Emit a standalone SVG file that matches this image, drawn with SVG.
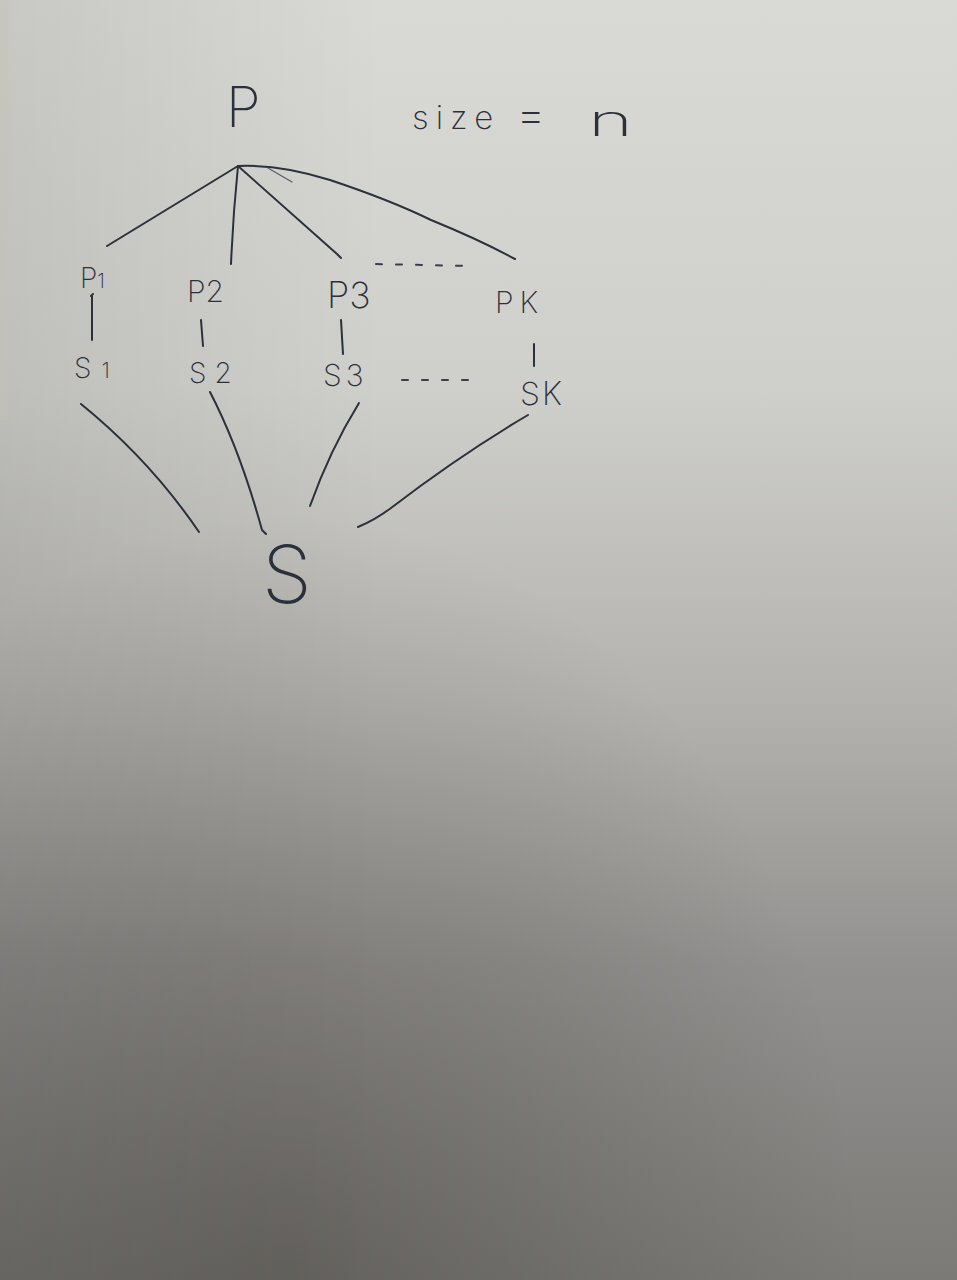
<svg xmlns="http://www.w3.org/2000/svg" width="957" height="1280" viewBox="0 0 957 1280">
  <defs>
    <linearGradient id="paper" x1="0" y1="0" x2="0" y2="1">
      <stop offset="0" stop-color="#d9d9d5"/>
      <stop offset="0.3" stop-color="#cfcfcb"/>
      <stop offset="0.55" stop-color="#b3b2ae"/>
      <stop offset="0.75" stop-color="#949290"/>
      <stop offset="1" stop-color="#7c7a77"/>
    </linearGradient>
    <radialGradient id="shade" cx="0.3" cy="1" r="0.6">
      <stop offset="0" stop-color="#2a2620" stop-opacity="0.3"/>
      <stop offset="1" stop-color="#2a2620" stop-opacity="0"/>
    </radialGradient>
    <linearGradient id="side" x1="0" y1="0" x2="1" y2="0">
      <stop offset="0" stop-color="#000" stop-opacity="0.08"/>
      <stop offset="0.4" stop-color="#000" stop-opacity="0"/>
    </linearGradient>
    <style>
      .ink { fill: none; stroke: #2c303b; stroke-width: 2; stroke-linecap: round; stroke-linejoin: round; }
      .faint { fill: none; stroke: #5a5e6a; stroke-width: 1.2; stroke-linecap: round; }
      .dash { fill: none; stroke: #3a3e4a; stroke-width: 2; stroke-linecap: round; stroke-dasharray: 6 14; }
      .lbl { font-family: Inter, "Liberation Sans", sans-serif; font-weight: 200; fill: #2c303b; }
    </style>
  </defs>

  <rect width="957" height="1280" fill="url(#paper)"/>
  <rect width="957" height="1280" fill="url(#shade)"/>
  <rect width="957" height="1280" fill="url(#side)"/>
  <rect x="0" y="0" width="8" height="420" fill="#c9c6b4" opacity="0.35"/>

  <g id="connectors">
    <path class="ink" d="M238 166 L107 246"/>
    <path class="ink" d="M238 166 Q233 215 231 264"/>
    <path class="ink" d="M238 166 L337 254 L341 258"/>
    <path class="ink" d="M238 166 Q280 164 330 180 Q390 200 431 220 Q480 240 515 259"/>
    <path class="faint" d="M268 168 L292 182"/>
    <path class="dash" d="M376 264 L470 266"/>
    <path class="ink" d="M91 296 L93 294 M92 296 L92 340"/>
    <path class="ink" d="M201 320 L203 346"/>
    <path class="ink" d="M341 320 L343 354"/>
    <path class="ink" d="M534 344 L534 366"/>
    <path class="dash" d="M402 380 L482 380"/>
    <path class="ink" d="M81 404 Q150 460 199 532"/>
    <path class="ink" d="M210 392 Q240 450 262 530 L266 534"/>
    <path class="ink" d="M359 403 Q330 450 310 506"/>
    <path class="ink" d="M528 415 Q460 455 391 508 Q375 520 358 527"/>
  </g>

  <g id="node-P"><text class="lbl" x="226" y="127" font-size="56">P</text></g>
  <g id="node-size">
    <text class="lbl" x="412" y="129" font-size="33" letter-spacing="7">size</text>
    <text class="lbl" x="516" y="131" font-size="46">=</text>
    <text class="lbl" font-size="44" transform="translate(588 136) scale(1.75 1)">n</text>
  </g>

  <g id="node-P1"><text class="lbl" x="80" y="288" font-size="28">P<tspan font-size="20">1</tspan></text></g>
  <g id="node-P2"><text class="lbl" x="187" y="302" font-size="30">P2</text></g>
  <g id="node-P3"><text class="lbl" x="327" y="308" font-size="36">P3</text></g>
  <g id="node-PK"><text class="lbl" x="495" y="313" font-size="30" letter-spacing="6">PK</text></g>

  <g id="node-S1"><text class="lbl" x="74" y="378" font-size="28" letter-spacing="10">S<tspan font-size="22">1</tspan></text></g>
  <g id="node-S2"><text class="lbl" x="189" y="383" font-size="28" letter-spacing="8">S2</text></g>
  <g id="node-S3"><text class="lbl" x="323" y="386" font-size="30" letter-spacing="4">S3</text></g>
  <g id="node-SK"><text class="lbl" x="520" y="405" font-size="32" letter-spacing="2">SK</text></g>

  <g id="node-S"><text class="lbl" x="262" y="603" font-size="80">S</text></g>
</svg>
